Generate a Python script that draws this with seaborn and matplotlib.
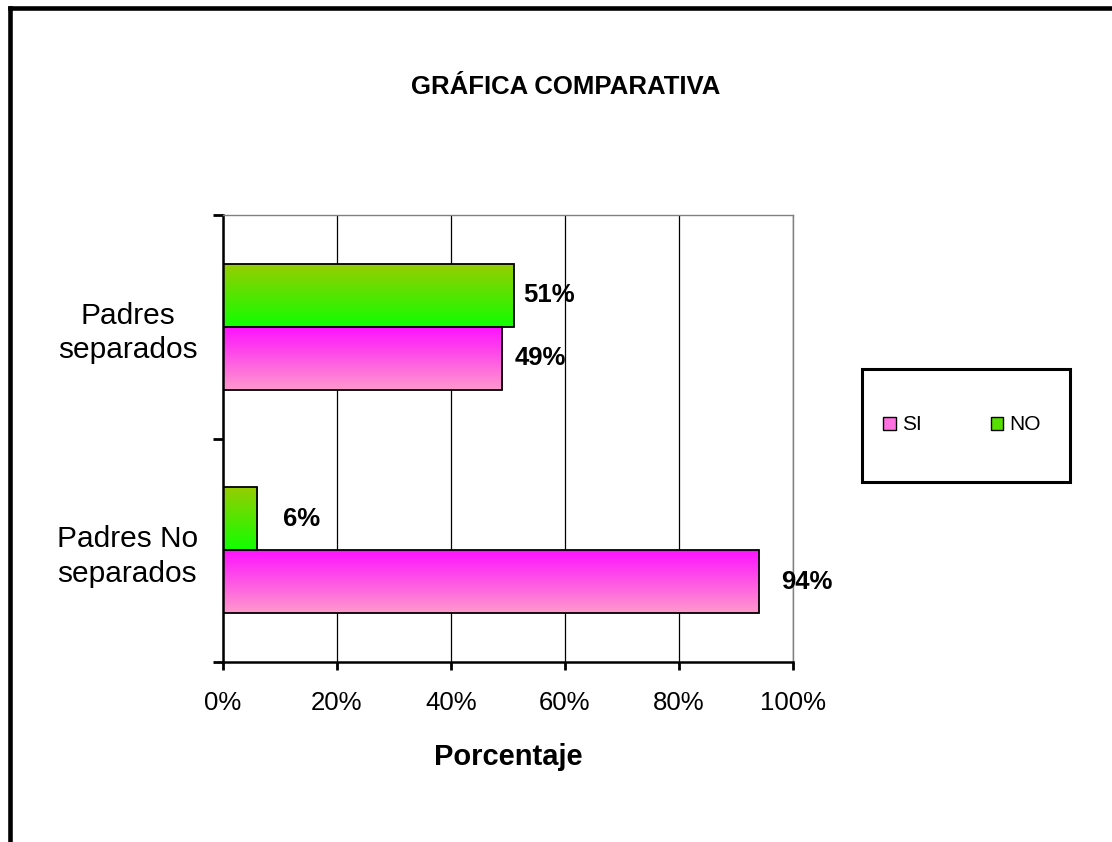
import numpy as np
import pandas as pd
import matplotlib.pyplot as plt
import seaborn as sns
from matplotlib.colors import LinearSegmentedColormap
from matplotlib.patches import Patch, Rectangle
from matplotlib.lines import Line2D

sns.set_style('white')
plt.rcParams['font.family'] = ['Liberation Sans', 'DejaVu Sans']
plt.rcParams['text.color'] = 'black'
plt.rcParams['axes.labelcolor'] = 'black'
plt.rcParams['xtick.color'] = 'black'
plt.rcParams['ytick.color'] = 'black'

# datos
categorias = ['Padres separados', 'Padres No separados']
etiquetas_y = ['Padres\nseparados', 'Padres No\nseparados']
si_vals = [49, 94]
no_vals = [51, 6]
ticks_x = [0, 20, 40, 60, 80, 100]

df = pd.DataFrame({
    'categoria': categorias * 2,
    'respuesta': ['SI'] * 2 + ['NO'] * 2,
    'porcentaje': si_vals + no_vals,
})

# degradados (arriba -> abajo)
GRAD = {
    'SI': ('#FF10FF', '#FF9ACC'),
    'NO': ('#99CC00', '#10FF00'),
}
# separacion de etiquetas en px
PAD = {'NO': [9, 26], 'SI': [12, 22]}

fig = plt.figure(figsize=(11.12, 8.42), dpi=100)
ax = fig.add_axes([223 / 1112, 1 - 662 / 842, 570 / 1112, 447 / 842])

sns.barplot(data=df, y='categoria', x='porcentaje', hue='respuesta',
            hue_order=['NO', 'SI'], order=categorias, orient='h',
            width=0.565, ax=ax, legend=False, saturation=1)

ylim = (1.5, -0.5)
ax.set_xlim(0, 100)
ax.set_ylim(*ylim)

for cont, nivel in zip(ax.containers, ['NO', 'SI']):
    cmap = LinearSegmentedColormap.from_list(nivel, GRAD[nivel])
    grad = np.linspace(0, 1, 256).reshape(-1, 1)
    for i, bar in enumerate(cont):
        x0, y0 = bar.get_x(), bar.get_y()
        w, h = bar.get_width(), bar.get_height()
        bar.set_facecolor('none')
        bar.set_edgecolor('black')
        bar.set_linewidth(1.3)
        bar.set_zorder(3)
        im = ax.imshow(grad, cmap=cmap, aspect='auto', origin='upper',
                       extent=(x0, x0 + w, y0 + h, y0), zorder=2)
        im.set_clip_path(bar)
        ax.annotate(f'{w:.0f}%', xy=(x0 + w, y0 + h / 2),
                    xytext=(PAD[nivel][i] * 0.72, 0), textcoords='offset points',
                    ha='left', va='center', fontsize=18.5, fontweight='bold',
                    zorder=4)

ax.set_xlim(0, 100)
ax.set_ylim(*ylim)

# rejilla
ax.set_axisbelow(True)
ax.xaxis.grid(True, color='black', linewidth=0.9)
ax.yaxis.grid(False)
ax.set_xticks(ticks_x)
ax.set_xticklabels([f'{t}%' for t in ticks_x], fontsize=18.5)
ax.tick_params(axis='x', bottom=True, direction='out', length=6, width=2,
               pad=15, color='black')

# eje y: marcas en los limites, etiquetas en los centros
ax.set_yticks([-0.5, 0.5, 1.5])
ax.set_yticklabels([])
ax.set_yticks([0, 1], minor=True)
ax.set_yticklabels(etiquetas_y, minor=True, fontsize=21.5, linespacing=1.3)
for lab in ax.get_yticklabels(minor=True):
    lab.set_multialignment('center')
ax.tick_params(axis='y', which='major', left=True, direction='out', length=7.5,
               width=2, color='black')
ax.tick_params(axis='y', which='minor', left=True, length=0, pad=18)

for s in ['left', 'bottom']:
    ax.spines[s].set_color('black')
    ax.spines[s].set_linewidth(1.8)
for s in ['top', 'right']:
    ax.spines[s].set_color('#808080')
    ax.spines[s].set_linewidth(1.0)

ax.set_ylabel('')
ax.set_xlabel('Porcentaje', fontsize=21, fontweight='bold', va='center')
ax.xaxis.set_label_coords(0.5, -(757 - 662) / 447)

fig.text(566 / 1112, 1 - 87 / 842, 'GRÁFICA COMPARATIVA', ha='center', va='center',
         fontsize=18.5, fontweight='bold')

# leyenda
fig.add_artist(Rectangle((862 / 1112, 1 - 482 / 842), 208 / 1112, 113 / 842,
                         transform=fig.transFigure, fill=False, edgecolor='black',
                         linewidth=2.2))
handles = [Patch(facecolor='#FF70E0', edgecolor='black', linewidth=1, label='SI'),
           Patch(facecolor='#55E000', edgecolor='black', linewidth=1, label='NO')]
fig.legend(handles=handles, loc='center', bbox_to_anchor=(962 / 1112, 1 - 425 / 842),
           ncol=2, frameon=False, fontsize=15, handlelength=0.6, handleheight=0.6,
           handletextpad=0.3, columnspacing=3.3)

# marco exterior
fig.add_artist(Line2D([9.5 / 1112, 9.5 / 1112], [0, 1 - 7.5 / 842],
                      transform=fig.transFigure, color='black', linewidth=3.3,
                      solid_capstyle='projecting'))
fig.add_artist(Line2D([9.5 / 1112, 1], [1 - 7.5 / 842, 1 - 7.5 / 842],
                      transform=fig.transFigure, color='black', linewidth=3.3,
                      solid_capstyle='projecting'))

fig.savefig('out.png', dpi=100)
